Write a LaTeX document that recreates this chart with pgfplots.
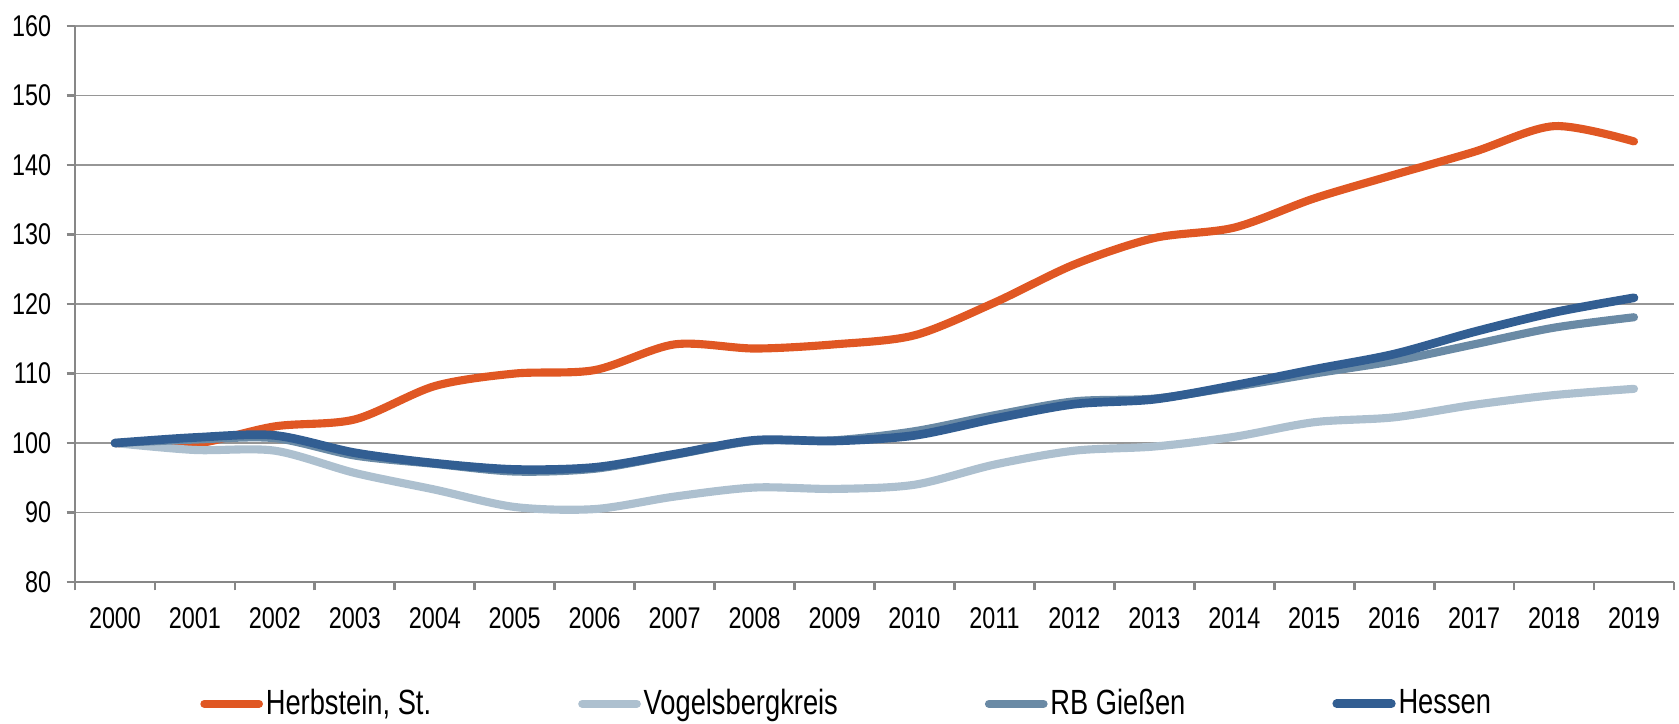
\documentclass[border=0pt]{standalone}
\usepackage{fontspec}
\setmainfont{Liberation Sans}[FakeStretch=0.78]
\usepackage{pgfplots}
\pgfplotsset{compat=1.18}
\definecolor{cHerb}{RGB}{224,87,35}
\definecolor{cVog}{RGB}{173,192,207}
\definecolor{cRB}{RGB}{106,138,165}
\definecolor{cHes}{RGB}{50,94,146}
\definecolor{cGrid}{RGB}{150,150,150}
\definecolor{cAxis}{RGB}{135,135,135}
\begin{document}
\begin{tikzpicture}
\begin{axis}[
  scale only axis, width=571.1pt, height=198.6pt,
  xmin=-0.5, xmax=19.5, ymin=80, ymax=160,
  axis x line*=bottom, axis y line*=left,
  axis line style={draw=cAxis, line width=1pt},
  xtick={0,1,...,19},
  xticklabels={2000,2001,2002,2003,2004,2005,2006,2007,2008,2009,2010,2011,2012,2013,2014,2015,2016,2017,2018,2019},
  major x tick style={draw=none},
  minor xtick={-0.5,0.5,...,19.5},
  minor tick length=3pt,
  minor tick style={draw=cAxis, line width=1pt},
  ytick={80,90,...,160},
  major tick length=3pt,
  major y tick style={draw=cAxis, line width=1pt},
  tick align=outside,
  ymajorgrids,
  major grid style={draw=cGrid, line width=0.6pt},
  tick label style={font=\fontsize{10.7}{12}\selectfont},
  xticklabel style={yshift=-2.5pt},
  yticklabel style={xshift=-2pt},
  /pgf/number format/assume math mode=true,
  legend columns=4,
  legend style={at={(0.078,-0.219)}, anchor=west, draw=none, fill=none,
    font=\fontsize{12.5}{14}\selectfont, inner sep=0pt,
    nodes={inner sep=1pt},
    /tikz/every even column/.append style={column sep=51.5pt}},
  legend image code/.code={\draw[#1,line cap=round] (0pt,0pt) -- (19.5pt,0pt);},
  every axis plot/.append style={smooth, line cap=round, line join=round},
]
\addplot[cHerb, line width=2.9pt] coordinates {
(0,100) (1,99.9) (2,102.4) (3,103.4) (4,108.2) (5,110.0) (6,110.5) (7,114.2) (8,113.6) (9,114.2)
(10,115.5) (11,120.2) (12,125.7) (13,129.5) (14,131.0) (15,135.2) (16,138.6) (17,141.9) (18,145.6) (19,143.4)};
\addlegendentry{Herbstein, St.}
\addplot[cVog, line width=2.9pt] coordinates {
(0,100) (1,99.0) (2,98.9) (3,95.7) (4,93.3) (5,90.8) (6,90.5) (7,92.3) (8,93.6) (9,93.4)
(10,94.0) (11,96.9) (12,98.9) (13,99.5) (14,100.9) (15,103.0) (16,103.7) (17,105.5) (18,106.9) (19,107.8)};
\addlegendentry{Vogelsbergkreis}
\addplot[cRB, line width=2.9pt] coordinates {
(0,100) (1,100.5) (2,100.7) (3,98.2) (4,97.0) (5,95.9) (6,96.3) (7,98.3) (8,100.3) (9,100.4)
(10,101.7) (11,104.0) (12,106.0) (13,106.4) (14,108.1) (15,110.0) (16,111.8) (17,114.2) (18,116.6) (19,118.1)};
\addlegendentry{RB Gießen}
\addplot[cHes, line width=3.1pt] coordinates {
(0,100) (1,100.8) (2,101.1) (3,98.6) (4,97.1) (5,96.2) (6,96.5) (7,98.4) (8,100.4) (9,100.3)
(10,101.1) (11,103.5) (12,105.6) (13,106.3) (14,108.3) (15,110.6) (16,112.8) (17,116.0) (18,118.8) (19,120.9)};
\addlegendentry{Hessen}
\end{axis}
\path (current axis.south west) ++(-26.8pt,-50.7pt) coordinate (bl);
\path (current axis.north east) ++(1.8pt,9.3pt) coordinate (tr);
\path (bl) rectangle (tr);
\end{tikzpicture}
\end{document}
